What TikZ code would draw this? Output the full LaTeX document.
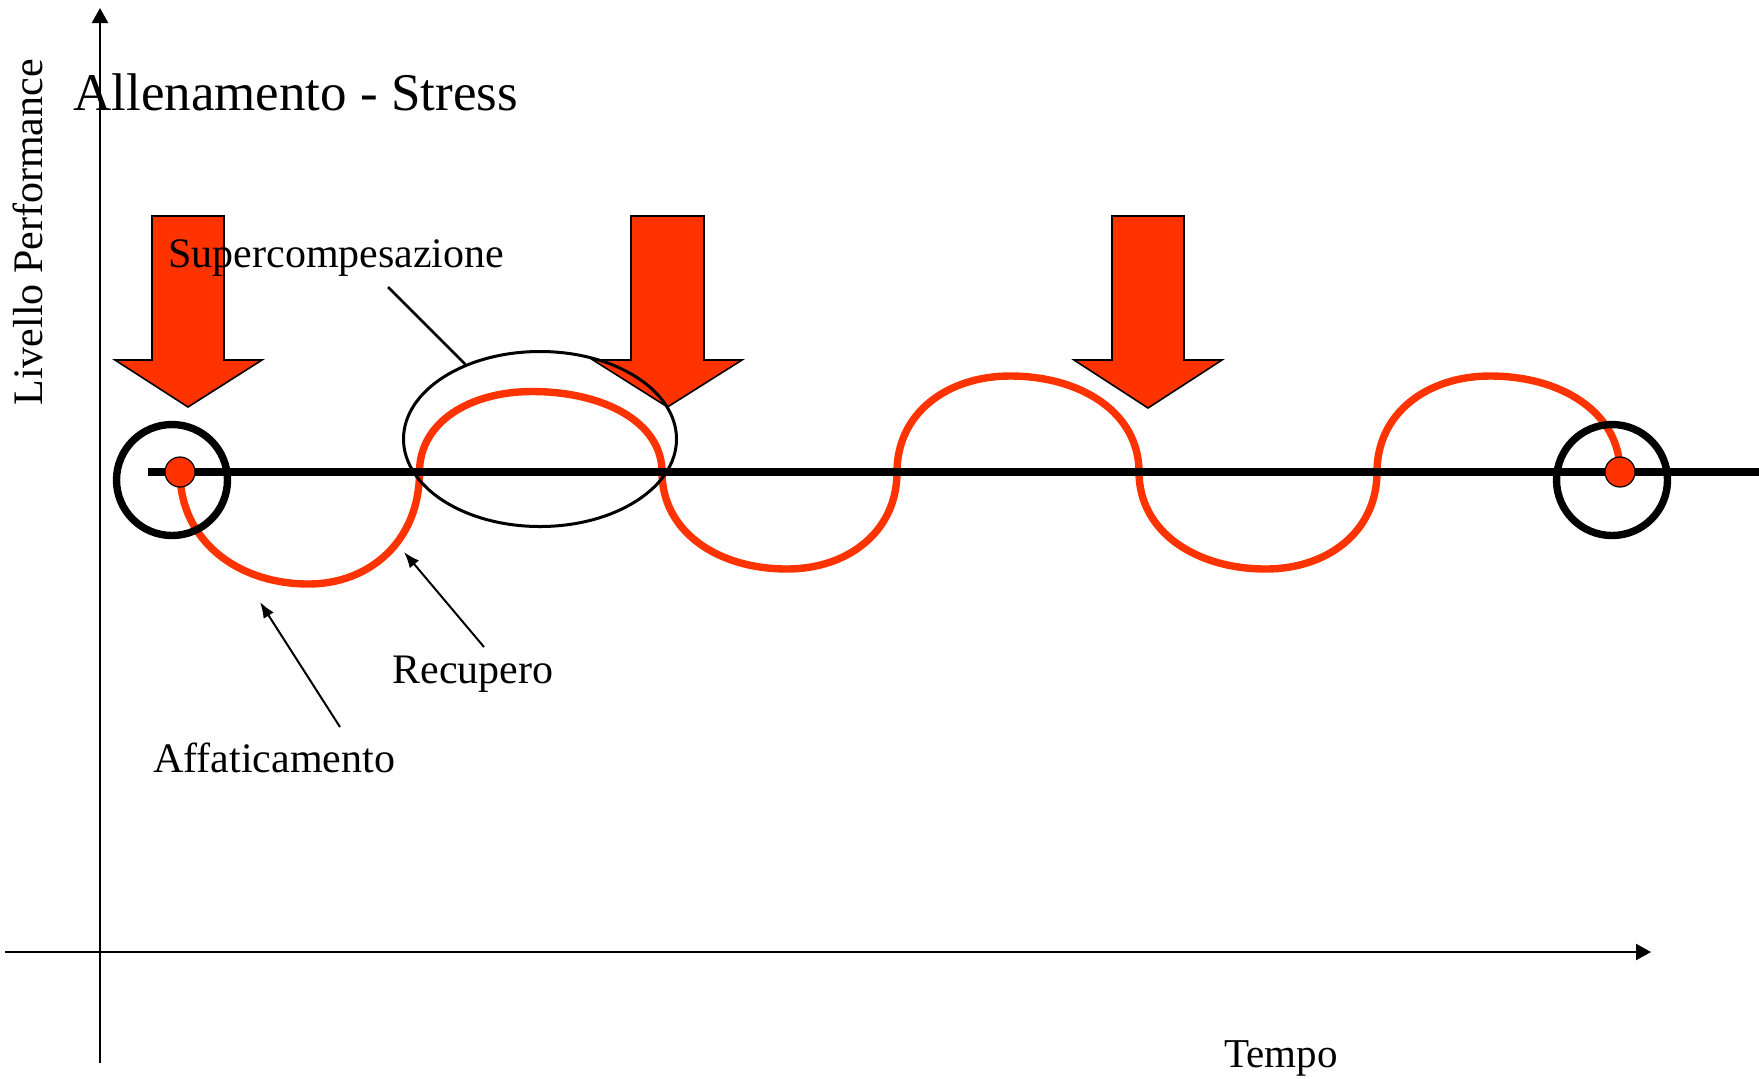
\documentclass[tikz,border=0pt]{standalone}
\usepackage{fontspec}
\setmainfont{Liberation Serif}
\usetikzlibrary{shapes.geometric, arrows.meta}
\definecolor{stressred}{RGB}{255,51,0}
\tikzstyle{note} =
        [
                inner sep = 0pt,
                anchor = base west,
                font = \fontsize{21pt}{25pt}\selectfont
        ]
\tikzstyle{heading} =
        [
                note,
                font = \fontsize{26.5pt}{32pt}\selectfont
        ]
\tikzstyle{stress} =
        [
                draw,
                fill = stressred,
                line width = 0.8pt
        ]
\tikzstyle{wave} =
        [
                draw = stressred,
                line width = 3.7pt
        ]
\tikzstyle{level} =
        [
                draw,
                line width = 3.8pt
        ]
\tikzstyle{ring} =
        [
                draw,
                circle,
                line width = 3.7pt,
                minimum size = 55.5pt,
                inner sep = 0pt
        ]
\tikzstyle{dot} =
        [
                draw,
                circle,
                fill = stressred,
                line width = 0.6pt,
                minimum size = 15pt,
                inner sep = 0pt
        ]
\tikzstyle{oval} =
        [
                draw,
                ellipse,
                line width = 1.5pt,
                minimum width = 136.5pt,
                minimum height = 87.5pt,
                inner sep = 0pt
        ]
\tikzstyle{axis} =
        [
                draw,
                line width = 1.2pt,
                -{Triangle[length = 7.5pt, width = 8pt]}
        ]
\tikzstyle{line} =
        [
                draw,
                line width = 1pt,
                -{Latex[length = 8pt, width = 6pt]}
        ]

\begin{document}
\begin{tikzpicture}[x = 0.5pt, y = -0.5pt]
        \useasboundingbox (0,0) rectangle (1759,1078);

        % assi
        \coordinate (origin) at (100,952);
        \coordinate (ytop) at (100,8);
        \coordinate (ybottom) at (100,1063);
        \coordinate (xleft) at (5,952);
        \coordinate (xright) at (1651,952);
        \path [axis] (ybottom) -- (ytop);
        \path [axis] (xleft) -- (xright);

        % stimoli di allenamento
        \path [stress] (152,216) -- (224,216) -- (224,360) -- (262,360) -- (188,407) -- (115,360) -- (152,360) -- cycle;
        \path [stress] (631,216) -- (704,216) -- (704,360) -- (742,360) -- (667.5,407) -- (593,360) -- (631,360) -- cycle;
        \path [stress] (1112,216) -- (1184,216) -- (1184,360) -- (1222,360) -- (1148,408) -- (1074,360) -- (1112,360) -- cycle;

        % curva della performance
        \path [wave] (180,472)
                .. controls (180,541) and (238,584) .. (308.6,584)
                .. controls (369.6,584) and (419.5,541) .. (419.5,472)
                .. controls (419.5,422) and (470,391.5) .. (532,391.5)
                .. controls (603.5,391.5) and (662,422) .. (662,472)
                .. controls (662,532) and (718,569) .. (787,569)
                .. controls (847.5,569) and (897,532) .. (897,472)
                .. controls (897,412.5) and (948,376) .. (1010,376)
                .. controls (1081,376) and (1139,412.5) .. (1139,472)
                .. controls (1139,532) and (1196,569) .. (1266,569)
                .. controls (1327,569) and (1377,532) .. (1377,472)
                .. controls (1377,412.5) and (1428,376) .. (1490,376)
                .. controls (1561.5,376) and (1620,412.5) .. (1620,472);

        % livello iniziale
        \coordinate (levelstart) at (148,472);
        \coordinate (levelend) at (1759,472);
        \path [level] (levelstart) -- (levelend);

        \node [ring] (ringstart) at (172,480) {};
        \node [ring] (ringend) at (1612,480) {};
        \node [dot] (start) at (180,472) {};
        \node [dot] (finish) at (1620,472) {};

        \node [oval] (supercomp) at (540,439) {};

        % testi
        \node [heading] (title) at (73,110) {Allenamento - Stress};
        \node [note] (suplabel) at (168,267) {Supercompesazione};
        \node [note] (reclabel) at (392,683) {Recupero};
        \node [note] (fatlabel) at (153,772) {Affaticamento};
        \node [note, font = \fontsize{20.5pt}{24pt}\selectfont] (time) at (1224,1067) {Tempo};
        \node [note, rotate = 90] (perf) at (42,406) {Livello Performance};

        % richiami
        \coordinate (suptail) at (388,287);
        \coordinate (rectail) at (484,647);
        \coordinate (rectip) at (404,552);
        \coordinate (fattail) at (340,727);
        \coordinate (fattip) at (260,602);
        \draw [line width = 1.4pt] (suptail) -- (supercomp);
        \path [line] (rectail) -- (rectip);
        \path [line] (fattail) -- (fattip);
\end{tikzpicture}
\end{document}
